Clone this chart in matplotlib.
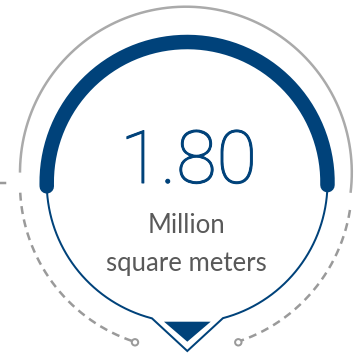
import numpy as np
import matplotlib
matplotlib.use("Agg")
import matplotlib.pyplot as plt
import matplotlib.patheffects as pe
from matplotlib.patches import Polygon, Circle

# Values shown in the gauge
gauge_value = "1.80"
unit_lines = ["Million", "square meters"]

# Colours
BLUE = "#00427a"
GREY_LINE = "#aaaaaa"
GREY_DASH = "#9a9a9a"
GREY_TEXT = "#595959"

W, H = 354, 356
DPI = 100
PX = 72.0 / DPI  # points per pixel


def arc_xy(cx, cy, r, a0, a1, n=200):
    """Return x, y points of a circular arc (angles in degrees)."""
    t = np.radians(np.linspace(a0, a1, n))
    return cx + r * np.cos(t), cy + r * np.sin(t)


fig = plt.figure(figsize=(W / DPI, H / DPI), dpi=DPI)
ax = fig.add_axes([0, 0, 1, 1])
ax.set_xlim(0, W)
ax.set_ylim(0, H)
ax.set_aspect("equal")
ax.axis("off")

# Outer grey ring (solid upper part)
x, y = arc_xy(185.9, 183.4, 165.9, -7, 180)
ax.plot(x, y, color=GREY_LINE, lw=2.5 * PX, solid_capstyle="butt")

# Dashed lower parts of the outer ring
dash = (3.2, 2.2)
x, y = arc_xy(186, 172, 166, 183, 252)
ax.plot(x, y, color=GREY_DASH, lw=2.5 * PX, linestyle=(0, dash))
x, y = arc_xy(186, 172, 166, -9, -72)
ax.plot(x, y, color=GREY_DASH, lw=2.5 * PX, linestyle=(0, dash))

# End markers of the dashed arcs
for mx in (135, 238.3):
    ax.add_patch(Circle((mx, 13.7), 3.2, facecolor="white", edgecolor=GREY_DASH,
                        lw=2 * PX, zorder=3))

# Short tick at the left edge
ax.plot([0, 5], [173, 173], color=GREY_DASH, lw=2.5 * PX)

# Thick blue gauge arc
cx, cy, r = 187.1, 173.6, 140.4
x, y = arc_xy(cx, cy, r, -1.1, 181.6)
ax.plot(x, y, color=BLUE, lw=14.5 * PX, solid_capstyle="round")

# Thin blue outline with the pointer at the bottom
xl, yl = arc_xy(cx, cy, r, 181.6, 255.5)
xr, yr = arc_xy(cx, cy, r, 284.8, 358.9)
xs = np.concatenate([xl, [187.3], xr])
ys = np.concatenate([yl, [5.0], yr])
ax.plot(xs, ys, color=BLUE, lw=2.0 * PX, solid_joinstyle="miter")

# Filled pointer triangle
ax.add_patch(Polygon([[164, 34.3], [210.7, 34.3], [187.3, 14.3]],
                     closed=True, facecolor=BLUE, edgecolor="none"))

# Texts
ax.text(188.5, 173, gauge_value, color=BLUE, fontsize=53,
        family=["Roboto", "DejaVu Sans"], weight="light",
        ha="center", va="baseline",
        path_effects=[pe.withStroke(linewidth=0.7, foreground=BLUE)])
fam = ["Lato", "DejaVu Sans"]
ax.text(186.5, 123, unit_lines[0], color=GREY_TEXT, fontsize=18.5, family=fam,
        ha="center", va="baseline")
ax.text(186.5, 85.3, unit_lines[1], color=GREY_TEXT, fontsize=18.5, family=fam,
        ha="center", va="baseline")

fig.savefig("out.png", dpi=DPI, facecolor="white")
